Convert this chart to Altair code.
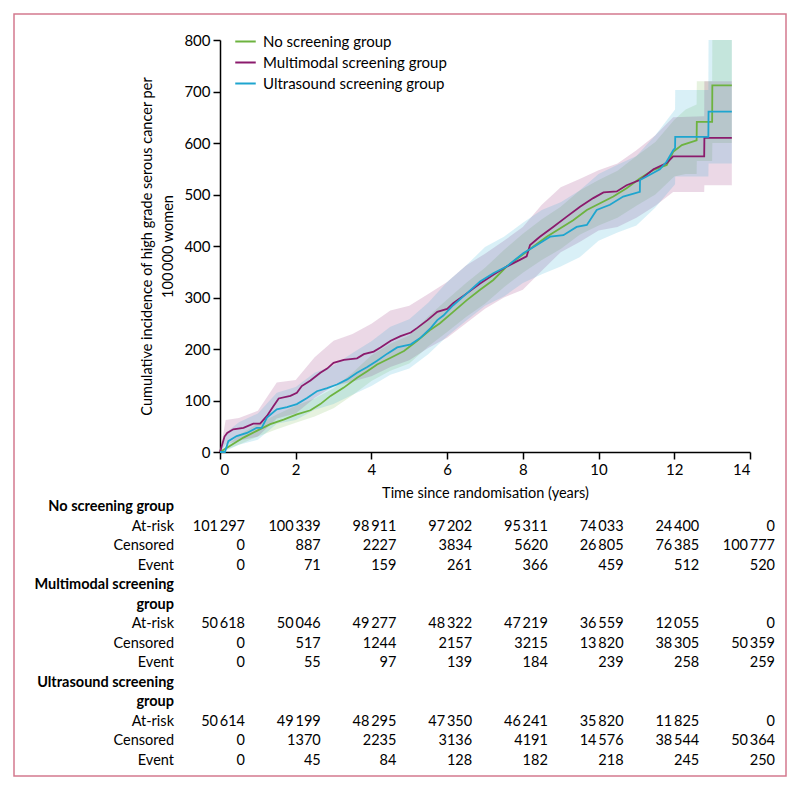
import altair as alt
import pandas as pd

FONT = "Lato, 'Open Sans', sans-serif"

groups = ["No screening group", "Multimodal screening group", "Ultrasound screening group"]
line_colors = ["#6db33f", "#8b1a6c", "#1ea5cf"]

# ---- cumulative incidence curves (per 100 000 women) ----
no_t = [0, 0.27, 0.62, 0.97, 1.33, 1.68, 2.03, 2.39, 2.65, 2.92, 3.27, 3.62, 3.89, 4.15, 4.51, 4.86,
        5.21, 5.57, 5.81, 6.16, 6.52, 6.87, 7.22, 7.57, 7.92, 8.28, 8.63, 8.98, 9.33, 9.69, 10.04,
        10.39, 10.74, 11.09, 11.45, 11.8, 11.97, 12.2, 12.59, 12.595, 13.0, 13.005, 13.52]
no_v = [0, 12, 28, 41, 54, 63, 73, 81, 93, 109, 125, 144, 157, 170, 183, 196,
        216, 238, 250, 272, 295, 315, 334, 360, 379, 399, 418, 434, 450, 470, 483,
        496, 512, 531, 548, 557, 583, 596, 605, 641, 641, 712, 712]

mm_t = [0, 0.12, 0.19, 0.35, 0.62, 0.88, 1.06, 1.24, 1.41, 1.55, 1.86, 2.03, 2.16, 2.39, 2.65, 2.83,
        3.0, 3.27, 3.62, 3.8, 4.06, 4.24, 4.51, 4.77, 5.04, 5.21, 5.48, 5.74, 6.0, 6.16, 6.52,
        6.87, 7.22, 7.57, 7.92, 8.1, 8.19, 8.45, 8.8, 9.16, 9.51, 9.86, 10.13, 10.48, 10.74,
        11.09, 11.45, 11.8, 11.97, 12.79, 12.795, 13.52]
mm_v = [0, 30, 37, 44, 47, 55, 55, 70, 89, 104, 109, 115, 128, 139, 154, 162,
        173, 179, 182, 190, 195, 203, 216, 225, 232, 241, 256, 272, 278, 289, 308,
        327, 344, 360, 373, 380, 402, 418, 437, 457, 476, 493, 504, 506, 518,
        528, 549, 561, 574, 574, 610, 610]

us_t = [0, 0.13, 0.22, 0.44, 0.71, 0.97, 1.1, 1.24, 1.5, 1.77, 2.03, 2.3, 2.56, 2.83, 3.09, 3.36,
        3.62, 3.89, 4.15, 4.42, 4.68, 5.04, 5.3, 5.57, 5.74, 5.9, 6.16, 6.52, 6.87, 7.22, 7.57,
        8.01, 8.37, 8.72, 9.07, 9.42, 9.69, 9.95, 10.3, 10.65, 11.09, 11.095, 11.27, 11.62, 11.8,
        11.97, 12.02, 12.025, 12.9, 12.905, 13.52]
us_v = [0, 0, 21, 31, 37, 47, 47, 67, 83, 87, 93, 105, 118, 124, 131, 141,
        154, 165, 177, 191, 203, 209, 222, 241, 256, 265, 285, 308, 331, 347, 360,
        386, 402, 418, 421, 437, 441, 470, 480, 496, 505, 528, 535, 549, 564,
        586, 590, 612, 612, 661, 661]

# ---- 95% confidence bands ----
no_bt = [0, 0.5, 1, 1.5, 2, 2.5, 3, 3.5, 4, 4.5, 5, 5.5, 6, 6.5, 7, 7.5, 8, 8.5, 9, 9.5, 10,
         10.5, 11, 11.5, 12, 12.3, 12.59, 12.595, 13.0, 13.005, 13.52]
no_lo = [0, 14, 30, 44, 57, 69, 85, 110, 138, 158, 172, 205, 233, 262, 288, 320, 348, 373, 394,
         422, 440, 455, 478, 500, 535, 540, 540, 565, 565, 600, 600]
no_hi = [0, 33, 55, 73, 90, 104, 124, 154, 188, 210, 226, 263, 296, 328, 358, 392, 424, 452, 476,
         508, 528, 546, 575, 602, 645, 665, 675, 720, 720, 800, 800]

mm_bt = [0, 0.15, 0.5, 1.0, 1.5, 2, 2.5, 3, 3.5, 4, 4.5, 5, 5.5, 6, 6.5, 7, 7.5, 8, 8.5, 9, 9.5,
         10, 10.5, 11, 11.5, 11.97, 12.79, 12.795, 13.52]
mm_lo = [0, 15, 22, 30, 65, 75, 105, 128, 137, 147, 165, 178, 202, 222, 250, 278, 300, 315, 352,
         388, 408, 430, 437, 455, 478, 505, 505, 518, 518]
mm_hi = [0, 62, 66, 80, 135, 140, 184, 216, 229, 249, 275, 284, 307, 330, 362, 385, 410, 437, 480,
         514, 530, 547, 560, 586, 615, 650, 652, 720, 720]

us_bt = [0, 0.2, 0.5, 1, 1.5, 2, 2.5, 3, 3.5, 4, 4.5, 5, 5.5, 6, 6.5, 7, 7.5, 8, 8.5, 9, 9.5, 10,
         10.5, 11, 11.5, 12.02, 12.025, 12.9, 12.905, 13.52]
us_lo = [0, 4, 14, 24, 55, 62, 82, 93, 111, 128, 150, 162, 190, 225, 255, 284, 302, 328, 345, 360,
         378, 410, 426, 440, 475, 520, 535, 535, 560, 560]
us_hi = [0, 40, 58, 75, 115, 126, 154, 168, 192, 215, 243, 258, 290, 330, 362, 398, 418, 445, 470,
         485, 508, 540, 558, 575, 615, 665, 703, 703, 800, 800]

# ---- number-at-risk table ----
table_times = [0, 2, 4, 6, 8, 10, 12, 14]
no_atrisk = [101297, 100339, 98911, 97202, 95311, 74033, 24400, 0]
no_cens = [0, 887, 2227, 3834, 5620, 26805, 76385, 100777]
no_event = [0, 71, 159, 261, 366, 459, 512, 520]
mm_atrisk = [50618, 50046, 49277, 48322, 47219, 36559, 12055, 0]
mm_cens = [0, 517, 1244, 2157, 3215, 13820, 38305, 50359]
mm_event = [0, 55, 97, 139, 184, 239, 258, 259]
us_atrisk = [50614, 49199, 48295, 47350, 46241, 35820, 11825, 0]
us_cens = [0, 1370, 2235, 3136, 4191, 14576, 38544, 50364]
us_event = [0, 45, 84, 128, 182, 218, 245, 250]

row_ids = ["g1", "r1a", "r1c", "r1e", "g2a", "g2b", "r2a", "r2c", "r2e",
           "g3a", "g3b", "r3a", "r3c", "r3e"]
row_labels = ["No screening group", "At-risk", "Censored", "Event",
              "Multimodal screening", "group", "At-risk", "Censored", "Event",
              "Ultrasound screening", "group", "At-risk", "Censored", "Event"]
row_bold = [True, False, False, False, True, True, False, False, False,
            True, True, False, False, False]


def fmt(n):
    return f"{n:,}".replace(",", "\u2009") if n >= 10000 else str(n)


curves = []
for g, (ts, vs) in zip(groups, [(no_t, no_v), (mm_t, mm_v), (us_t, us_v)]):
    for i, (t, v) in enumerate(zip(ts, vs)):
        curves.append({"group": g, "t": t, "v": v, "i": i})
curves = pd.DataFrame(curves)

bands = []
for g, (ts, lo, hi) in zip(groups, [(no_bt, no_lo, no_hi), (mm_bt, mm_lo, mm_hi), (us_bt, us_lo, us_hi)]):
    for t, a, b in zip(ts, lo, hi):
        bands.append({"group": g, "t": t, "lo": a, "hi": b})
bands = pd.DataFrame(bands)

num_rows = {"r1a": no_atrisk, "r1c": no_cens, "r1e": no_event,
            "r2a": mm_atrisk, "r2c": mm_cens, "r2e": mm_event,
            "r3a": us_atrisk, "r3c": us_cens, "r3e": us_event}
nums = []
for rid, vals in num_rows.items():
    for t, n in zip(table_times, vals):
        nums.append({"row": rid, "t": t, "txt": fmt(n)})
nums = pd.DataFrame(nums)

labels = pd.DataFrame({"row": row_ids, "label": row_labels, "bold": row_bold, "t": 0})

x_scale = alt.Scale(domain=[0, 14], nice=False)
y_scale = alt.Scale(domain=[0, 800], nice=False)
row_scale = alt.Scale(type="point", domain=row_ids, range=[467, 721], padding=0)

x_axis = alt.Axis(values=list(range(0, 15, 2)), title="Time since randomisation (years)",
                  titlePadding=9)
y_axis = alt.Axis(values=list(range(0, 801, 100)),
                  title=["Cumulative incidence of high grade serous cancer per", "100\u2009000 women"],
                  titlePadding=8)

band_layer = alt.Chart(bands).mark_area(opacity=0.17, interpolate="linear").encode(
    x=alt.X("t:Q", scale=x_scale, axis=x_axis),
    y=alt.Y("lo:Q", scale=y_scale, axis=y_axis),
    y2="hi:Q",
    fill=alt.Fill("group:N", scale=alt.Scale(domain=groups, range=line_colors), legend=None),
)

line_layer = alt.Chart(curves).mark_line(strokeWidth=1.8, interpolate="linear").encode(
    x=alt.X("t:Q", scale=x_scale),
    y=alt.Y("v:Q", scale=y_scale),
    color=alt.Color("group:N", scale=alt.Scale(domain=groups, range=line_colors),
                    legend=alt.Legend(title=None, orient="none", legendX=14, legendY=-10,
                                      symbolType="stroke", symbolSize=420, symbolStrokeWidth=2,
                                      labelFontSize=15, labelFont=FONT, labelColor="black",
                                      labelLimit=0, rowPadding=1, labelOffset=6)),
    order="i:Q",
)

label_bold = alt.Chart(labels[labels["bold"]]).mark_text(
    align="right", dx=-46, fontSize=14.5, font=FONT, fontWeight="bold", color="black").encode(
    x=alt.X("t:Q", scale=x_scale),
    y=alt.Y("row:N", scale=row_scale, axis=None),
    text="label:N",
)
label_norm = alt.Chart(labels[~labels["bold"]]).mark_text(
    align="right", dx=-46, fontSize=14.5, font=FONT, color="black").encode(
    x=alt.X("t:Q", scale=x_scale),
    y=alt.Y("row:N", scale=row_scale, axis=None),
    text="label:N",
)
num_layer = alt.Chart(nums).mark_text(
    align="right", dx=25, fontSize=14.5, font=FONT, color="black").encode(
    x=alt.X("t:Q", scale=x_scale),
    y=alt.Y("row:N", scale=row_scale, axis=None),
    text="txt:N",
)

frame = alt.Chart(pd.DataFrame({"a": [0]})).mark_rect(
    filled=False, stroke="#d47a8e", strokeWidth=1.5).encode(
    x=alt.value(-206), x2=alt.value(566), y=alt.value(-26), y2=alt.value(736))

main = alt.layer(band_layer, line_layer).resolve_scale(fill="independent", color="independent")
table = alt.layer(label_bold, label_norm, num_layer)

chart = alt.layer(main, table, frame).resolve_scale(y="independent").properties(
    width=530, height=412, padding=5
).configure_view(stroke=None).configure_axis(
    domainColor="black", domainWidth=1.5, tickColor="black", tickWidth=1.5, tickSize=7,
    labelFont=FONT, labelFontSize=15, labelColor="black", titleFont=FONT, titleFontSize=14.5,
    titleColor="black", titleFontWeight="normal", grid=False, labelPadding=3, titleLineHeight=21
).configure_text(font=FONT)

chart.save("out.html", embed_options={"renderer": "svg", "actions": False})
